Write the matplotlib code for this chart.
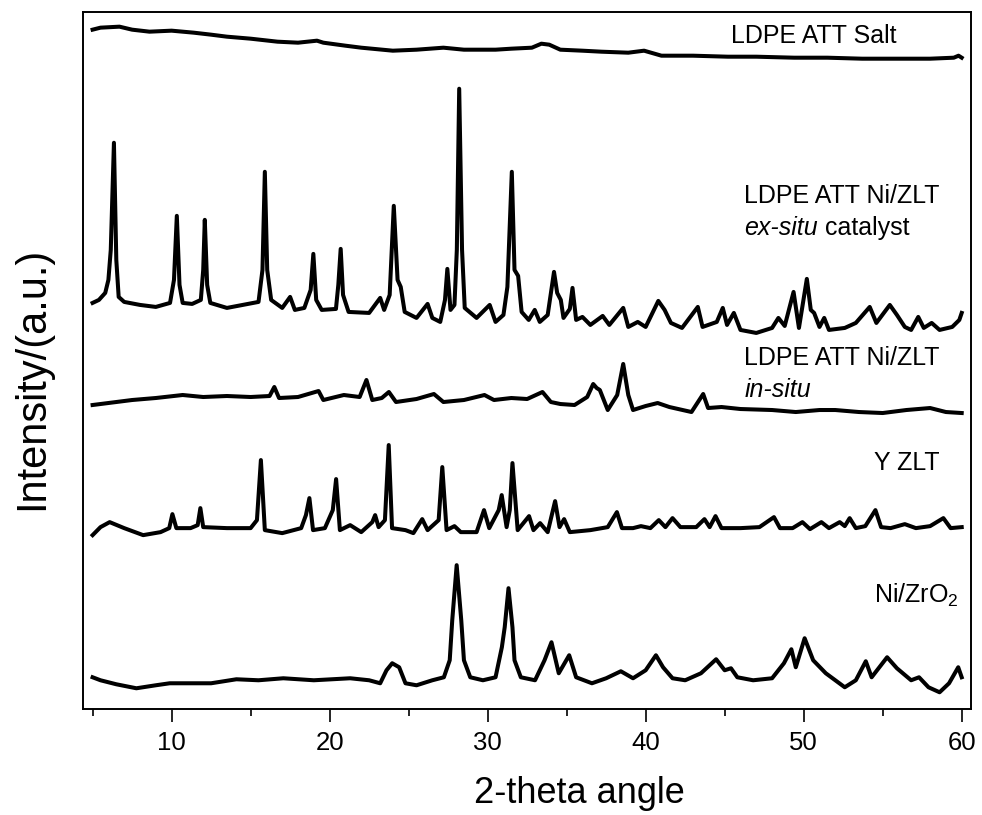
import numpy as np
import matplotlib
matplotlib.use("Agg")
import matplotlib.pyplot as plt
from matplotlib.ticker import MultipleLocator

plt.rcParams['font.family'] = ['Liberation Sans', 'DejaVu Sans']
plt.rcParams['mathtext.fontset'] = 'custom'
plt.rcParams['mathtext.rm'] = 'Liberation Sans'
plt.rcParams['mathtext.it'] = 'Liberation Sans:italic'
plt.rcParams['mathtext.default'] = 'regular'

# patrones de difraccion (2-theta, intensidad a.u., ya desplazados)
salt = [(5.0,679),(5.5,681),(6.7,682),(7.5,679),(8.6,677),(10.0,678),(11.4,676),(12.5,674),
        (13.5,672),(15.0,670),(16.7,667),(18.0,666),(19.2,668),(19.6,666),(21.0,663),(22.0,661),
        (24.0,658),(25.5,659),(27.2,661),(28.5,659),(29.4,659),(30.5,659),(31.5,660),(32.8,661),
        (33.4,665),(33.9,664),(34.6,659),(36.0,658),(37.2,657),(38.9,656),(39.9,658),(41.0,653),
        (43.0,653),(45.2,652),(47.0,652),(49.4,651),(51.5,651),(53.7,650),(56.0,650),(58.0,650),
        (59.5,651),(59.8,653),(60.0,651)]

ex_situ = [(5.0,406),(5.4,409),(5.8,416),(6.0,429),(6.15,459),(6.35,566),(6.5,449),(6.65,412),
           (7.0,407),(8.0,404),(9.0,402),(9.9,406),(10.15,429),(10.33,493),(10.5,424),(10.7,406),
           (11.3,405),(11.85,409),(12.0,439),(12.1,489),(12.25,424),(12.45,406),(13.5,401),
           (14.5,404),(15.5,407),(15.75,439),(15.9,537),(16.05,439),(16.3,409),(17.0,401),
           (17.5,412),(17.8,399),(18.4,401),(18.8,419),(18.97,455),(19.15,409),(19.5,399),
           (20.4,400),(20.55,424),(20.7,460),(20.85,414),(21.2,397),(22.5,396),(23.2,411),
           (23.45,399),(23.8,414),(24.06,503),(24.3,429),(24.5,422),(24.75,397),(25.5,391),
           (26.2,405),(26.5,391),(27.0,387),(27.3,409),(27.45,440),(27.65,399),(27.9,404),
           (28.05,459),(28.2,620),(28.38,459),(28.55,401),(29.3,391),(30.13,404),(30.5,387),
           (31.0,394),(31.25,422),(31.53,537),(31.7,439),(31.93,433),(32.15,397),(32.6,389),
           (32.98,399),(33.3,387),(33.8,394),(34.2,437),(34.4,416),(34.63,409),(34.8,391),
           (35.2,400),(35.37,421),(35.6,389),(36.0,392),(36.5,384),(37.28,393),(37.7,384),
           (38.58,401),(38.9,382),(39.5,387),(40.0,382),(40.8,408),(41.2,399),(41.6,386),
           (42.3,381),(43.3,402),(43.6,382),(44.5,387),(44.88,401),(45.15,384),(45.58,396),
           (46.0,379),(47.0,376),(48.0,381),(48.4,391),(48.8,383),(49.36,417),(49.7,381),
           (50.2,430),(50.45,399),(50.66,396),(51.0,382),(51.3,391),(51.6,379),(52.6,381),
           (53.3,386),(54.18,402),(54.6,386),(55.45,404),(55.9,394),(56.4,382),(56.8,379),
           (57.25,392),(57.6,381),(58.1,386),(58.6,379),(59.4,382),(59.85,389),(60.0,396)]

in_situ = [(5.0,304),(6.0,306),(7.5,309),(9.0,311),(10.7,314),(12.0,312),(13.5,313),(15.0,312),
           (16.2,313),(16.5,322),(16.8,311),(18.0,312),(19.3,318),(19.6,309),(20.9,314),
           (21.9,312),(22.33,329),(22.7,309),(23.3,311),(23.75,317),(24.2,307),(25.5,310),
           (26.6,315),(27.2,307),(28.5,309),(29.8,314),(30.4,309),(31.5,311),(32.5,310),
           (33.47,317),(34.0,307),(34.6,305),(35.5,304),(36.3,312),(36.68,325),(36.9,321),
           (37.1,319),(37.6,299),(38.2,314),(38.58,345),(38.9,314),(39.2,299),(40.0,303),
           (40.76,306),(41.5,302),(42.9,297),(43.64,315),(43.95,301),(44.8,302),(46.0,300),
           (48.0,299),(49.5,297),(51.0,299),(52.0,299),(53.5,297),(55.0,296),(56.5,299),
           (58.0,301),(59.0,297),(60.0,296)]

y_zlt = [(5.0,174),(5.5,182),(6.08,187),(7.0,181),(8.2,174),(9.3,177),(9.85,181),(10.05,195),
         (10.3,181),(11.2,181),(11.65,184),(11.82,201),(12.0,182),(13.5,181),(15.0,181),
         (15.4,189),(15.65,249),(15.9,179),(17.0,176),(18.2,181),(18.5,194),(18.72,211),
         (18.95,179),(19.7,181),(20.2,199),(20.41,230),(20.65,179),(21.3,184),(22.0,177),
         (22.7,187),(22.88,194),(23.1,182),(23.5,189),(23.74,264),(23.95,181),(24.8,179),
         (25.3,176),(25.86,190),(26.2,179),(26.9,189),(27.13,242),(27.4,179),(27.9,183),
         (28.3,177),(29.3,177),(29.77,199),(30.1,181),(30.7,199),(30.89,214),(31.2,182),
         (31.4,199),(31.57,246),(31.9,179),(32.62,193),(32.9,179),(33.32,186),(33.8,177),
         (34.27,208),(34.55,182),(34.84,190),(35.2,177),(36.5,179),(37.6,182),(38.18,197),
         (38.5,181),(39.2,181),(39.7,183),(40.3,181),(40.83,189),(41.25,182),(41.7,191),
         (42.2,182),(43.2,182),(43.72,190),(44.05,182),(44.42,193),(44.8,181),(46.0,181),
         (47.2,182),(48.12,192),(48.5,181),(49.3,181),(49.92,187),(50.4,180),(51.12,187),
         (51.6,181),(52.28,187),(52.6,183),(52.91,191),(53.3,181),(53.9,183),(54.54,199),
         (54.9,182),(55.5,181),(56.4,185),(57.1,181),(58.0,183),(58.84,191),(59.3,181),(60.0,182)]

ni_zro2 = [(5.0,32),(5.5,29),(6.5,25),(7.77,21),(9.0,24),(9.88,26),(11.5,26),(12.5,26),(14.1,30),
           (15.5,29),(17.07,31),(19.0,29),(21.3,31),(22.5,29),(23.2,26),(23.6,39),(23.96,46),
           (24.4,42),(24.8,26),(25.5,24),(26.5,29),(27.23,32),(27.6,49),(27.76,89),(28.04,144),
           (28.33,89),(28.5,49),(28.9,32),(29.7,29),(30.5,32),(30.9,62),(31.08,82),(31.32,121),
           (31.57,82),(31.7,49),(32.1,32),(33.0,29),(33.6,49),(34.04,67),(34.5,36),(35.16,54),
           (35.6,32),(36.6,26),(37.5,31),(38.43,38),(39.2,31),(40.0,39),(40.65,54),(41.1,42),
           (41.7,31),(42.5,29),(43.5,36),(44.46,50),(45.0,39),(45.4,41),(45.8,32),(46.8,29),
           (48.0,31),(48.75,46),(49.22,60),(49.5,42),(50.06,71),(50.6,49),(51.4,36),(52.6,22),
           (53.3,29),(53.93,48),(54.3,32),(55.28,52),(55.9,41),(56.8,29),(57.3,32),(57.9,22),
           (58.6,17),(59.2,26),(59.78,42),(60.0,32)]

patrones = [salt, ex_situ, in_situ, y_zlt, ni_zro2]

fig = plt.figure(figsize=(9.82, 8.15), dpi=100)
ax = fig.add_axes([0.0848, 0.1297, 0.9037, 0.8560])

for p in patrones:
    x, y = np.array(p).T
    ax.plot(x, y, '-', color='black', lw=2.9, solid_joinstyle='round')

# etiquetas de cada patron
fs = 18
ax.text(45.41, 666, "LDPE ATT Salt", fontsize=fs, va='baseline')
ax.text(46.23, 506, "LDPE ATT Ni/ZLT", fontsize=fs, va='baseline')
t1 = ax.text(46.23, 474, "ex-situ", fontsize=fs, style='italic', va='baseline')
ax.annotate(" catalyst", xy=(1, 0), xycoords=t1, fontsize=fs, va='bottom', ha='left')
ax.text(46.23, 344, "LDPE ATT Ni/ZLT", fontsize=fs, va='baseline')
ax.text(46.23, 312, "in-situ", fontsize=fs, style='italic', va='baseline')
ax.text(54.42, 239, "Y ZLT", fontsize=fs, va='baseline')
ax.text(54.42, 106, "Ni/ZrO$_2$", fontsize=fs, va='baseline')

# ejes
ax.set_xlim(4.41, 60.57)
ax.set_ylim(0, 697)
ax.set_yticks([])
ax.xaxis.set_major_locator(MultipleLocator(10))
ax.xaxis.set_minor_locator(MultipleLocator(5))
ax.tick_params(axis='x', which='major', direction='out', length=9.5, width=1.2, labelsize=18.5, pad=6)
ax.tick_params(axis='x', which='minor', direction='out', length=5, width=1.2)
for s in ax.spines.values():
    s.set_linewidth(1.4)

ax.set_xlabel("2-theta angle", fontsize=26, va='baseline')
ax.xaxis.set_label_coords(0.5586, -0.1343)
ax.set_ylabel("Intensity/(a.u.)", fontsize=30, va='center')
ax.yaxis.set_label_coords(-0.0578, 0.4749)

fig.savefig("out.png", dpi=100)
